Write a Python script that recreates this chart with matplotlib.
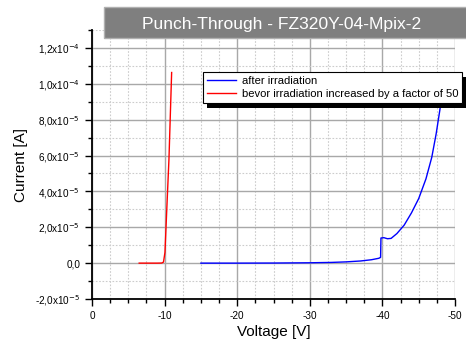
import matplotlib
matplotlib.use("Agg")
import matplotlib.pyplot as plt
from matplotlib.patches import Rectangle
from matplotlib.ticker import MultipleLocator, FixedLocator, FixedFormatter

plt.rcParams['font.family'] = ['Liberation Sans', 'DejaVu Sans']

# data
after_v = [-15.0, -20.0, -25.0, -30.0, -33.0, -35.0, -37.0, -38.5, -39.5, -39.75, -39.8,
           -40.2, -40.7, -41.2, -42.0, -43.0, -44.0, -45.0, -46.0, -46.8, -47.4, -47.9, -48.3]
after_i = [0.0, 0.0, 0.05e-6, 0.2e-6, 0.4e-6, 0.7e-6, 1.2e-6, 1.9e-6, 2.7e-6, 3.2e-6, 1.40e-5,
           1.42e-5, 1.36e-5, 1.38e-5, 1.65e-5, 2.12e-5, 2.8e-5, 3.6e-5, 4.7e-5, 5.9e-5, 7.2e-5, 8.5e-5, 9.6e-5]
before_v = [-6.5, -8.0, -9.0, -9.6, -9.85, -10.05, -10.3, -10.6, -10.97]
before_i = [0.0, 0.0, 0.0, 0.05e-6, 0.6e-6, 6.0e-6, 3.0e-5, 5.8e-5, 1.063e-4]

y_ticks = [-2e-5, 0, 2e-5, 4e-5, 6e-5, 8e-5, 1e-4, 1.2e-4]
y_labels = [r"-2,0x10$^{-5}$", "0,0", r"2,0x10$^{-5}$", r"4,0x10$^{-5}$", r"6,0x10$^{-5}$",
            r"8,0x10$^{-5}$", r"1,0x10$^{-4}$", r"1,2x10$^{-4}$"]
x_ticks = [0, -10, -20, -30, -40, -50]
x_labels = ["0", "-10", "-20", "-30", "-40", "-50"]

W, H = 466, 343
fig = plt.figure(figsize=(W / 100, H / 100), dpi=100)
ax = fig.add_axes([92 / W, (H - 299) / H, (455 - 92) / W, (299 - 30) / H])

ax.plot(after_v, after_i, color='#0000ff', lw=1.0, label='after irradiation', zorder=3)
ax.plot(before_v, before_i, color='#ff0000', lw=1.0, label='bevor irradiation increased by a factor of 50', zorder=3)

ax.set_xlim(0, -50)
ax.set_ylim(-2e-5, 1.3e-4)

ax.xaxis.set_major_locator(FixedLocator(x_ticks))
ax.xaxis.set_major_formatter(FixedFormatter(x_labels))
ax.xaxis.set_minor_locator(MultipleLocator(2.5))
ax.yaxis.set_major_locator(FixedLocator(y_ticks))
ax.yaxis.set_major_formatter(FixedFormatter(y_labels))
ax.yaxis.set_minor_locator(MultipleLocator(1e-5))

ax.grid(True, which='major', color='#a8a8a8', lw=1.0, ls='-')
ax.grid(True, which='minor', color='#cccccc', lw=0.8, ls=(0, (1.5, 1.5)))
ax.set_axisbelow(True)

for s in ['top', 'right']:
    ax.spines[s].set_visible(False)
for s in ['left', 'bottom']:
    ax.spines[s].set_linewidth(1.3)
    ax.spines[s].set_color('black')

ax.tick_params(which='major', direction='out', length=5, width=1.0, labelsize=7.2, colors='black')
ax.tick_params(which='minor', direction='out', length=3, width=1.0)

ax.set_xlabel('Voltage [V]', fontsize=11, labelpad=3)
ax.set_ylabel('Current [A]', fontsize=11, labelpad=8)
ax.yaxis.set_label_coords(-0.175, 0.5)

# title box
fig.patches.append(Rectangle((104 / W, (H - 38) / H), (W - 104) / W + 0.01, 31 / H,
                             transform=fig.transFigure, facecolor='#7f7f7f',
                             edgecolor='#b0b0b0', lw=1.0, zorder=3))
fig.text(282 / W, 1 - 24 / H, 'Punch-Through - FZ320Y-04-Mpix-2', color='white',
         fontsize=12.6, ha='center', va='center', zorder=4)

# legend
handles, labels = ax.get_legend_handles_labels()
leg = fig.legend(handles, labels, loc='upper left', bbox_to_anchor=(203 / W, 1 - 72 / H),
                 bbox_transform=fig.transFigure, frameon=True, fancybox=False,
                 fontsize=8.1, handlelength=2.6, handletextpad=0.5, borderpad=0.35,
                 labelspacing=0.25, borderaxespad=0)
leg.get_frame().set_edgecolor('black')
leg.get_frame().set_linewidth(0.8)
leg.get_frame().set_alpha(1)
leg.set_zorder(6)

fig.canvas.draw()
bb = leg.get_window_extent()
fig.patches.append(Rectangle((bb.x0 + 4, bb.y0 - 5), bb.width + 10, bb.height,
                             transform=None, facecolor='black', edgecolor='none', zorder=5.5))

fig.savefig('out.png', dpi=100)
